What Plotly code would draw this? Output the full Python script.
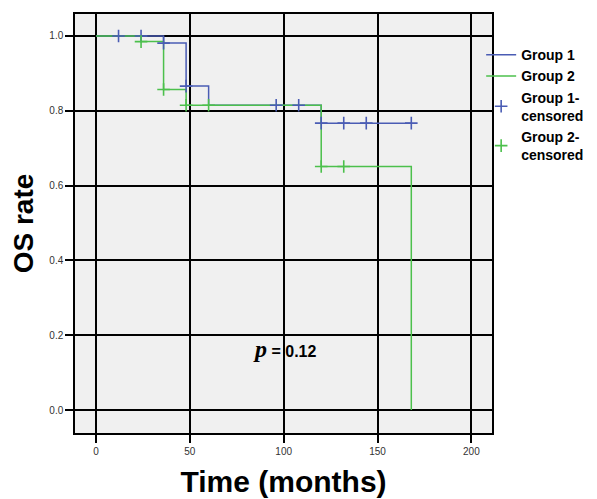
import plotly.graph_objects as go

# Kaplan-Meier step data (months, survival)
g1_time = [0, 36, 48, 60, 120, 168]
g1_surv = [1.0, 0.981, 0.866, 0.815, 0.767, 0.767]
g2_time = [0, 24, 36, 48, 120, 168]
g2_surv = [1.0, 0.985, 0.857, 0.815, 0.651, 0.0]

g1_cens_time = [12, 24, 36, 48, 96, 108, 120, 132, 144, 168]
g1_cens_surv = [1.0, 1.0, 0.981, 0.866, 0.815, 0.815, 0.767, 0.767, 0.767, 0.767]
g2_cens_time = [24, 36, 48, 60, 120, 132]
g2_cens_surv = [0.985, 0.857, 0.815, 0.815, 0.651, 0.651]

x_ticks = [0, 50, 100, 150, 200]
y_ticks = [0.0, 0.2, 0.4, 0.6, 0.8, 1.0]

BLUE = "#4a5cb4"
GREEN = "#4cc04c"

fig = go.Figure()
fig.add_trace(go.Scatter(x=g1_time, y=g1_surv, mode="lines", line=dict(color=BLUE, width=1.5, shape="hv"),
                         name="<b>Group 1</b>"))
fig.add_trace(go.Scatter(x=g2_time, y=g2_surv, mode="lines", line=dict(color=GREEN, width=1.5, shape="hv"),
                         name="<b>Group 2</b>"))
fig.add_trace(go.Scatter(x=g1_cens_time, y=g1_cens_surv, mode="markers",
                         marker=dict(symbol="cross-thin", size=9, line=dict(color=BLUE, width=1.6)),
                         name="<b>Group 1-<br>censored</b>"))
fig.add_trace(go.Scatter(x=g2_cens_time, y=g2_cens_surv, mode="markers",
                         marker=dict(symbol="cross-thin", size=9, line=dict(color=GREEN, width=1.6)),
                         name="<b>Group 2-<br>censored</b>"))

fig.add_annotation(x=100.5, y=0.163, xref="x", yref="y", showarrow=False, xanchor="center", yanchor="middle",
                   text="<i><b><span style='font-family:Liberation Serif;font-size:24px'>p</span></b></i>"
                        "<b> = 0.12</b>",
                   font=dict(family="Liberation Sans, Arial", size=16, color="black"))

axis_common = dict(showgrid=True, gridcolor="black", gridwidth=1.6, zeroline=False,
                   showline=True, linecolor="black", linewidth=1.5, mirror=True,
                   ticks="outside", ticklen=8, tickwidth=1.5, tickcolor="black", automargin=True,
                   tickfont=dict(family="Liberation Sans, Arial", size=10, color="#333333"))

# page body has an 8px margin, so the figure is sized 8px smaller and shifted
fig.update_layout(
    width=589, height=491,
    margin=dict(l=67, r=105, t=6, b=66, autoexpand=False),
    paper_bgcolor="white", plot_bgcolor="#f0f0f0",
    showlegend=True,
    legend=dict(x=0.974, xanchor="left", y=0.94, yanchor="top", bgcolor="rgba(0,0,0,0)",
                font=dict(family="Liberation Sans, Arial", size=14, color="black"),
                itemwidth=30, tracegroupgap=0),
    xaxis=dict(range=[-11.2, 211], tickvals=x_ticks,
               title=dict(text="<b>Time (months)</b>", standoff=15,
                          font=dict(family="Liberation Sans, Arial", size=30, color="black")),
               **axis_common),
    yaxis=dict(range=[-0.0615, 1.0588], tickvals=y_ticks, tickformat=".1f",
               title=dict(text="<b>OS rate</b>", standoff=20,
                          font=dict(family="Liberation Sans, Arial", size=28, color="black")),
               **axis_common),
)

fig.write_html("out.html")
